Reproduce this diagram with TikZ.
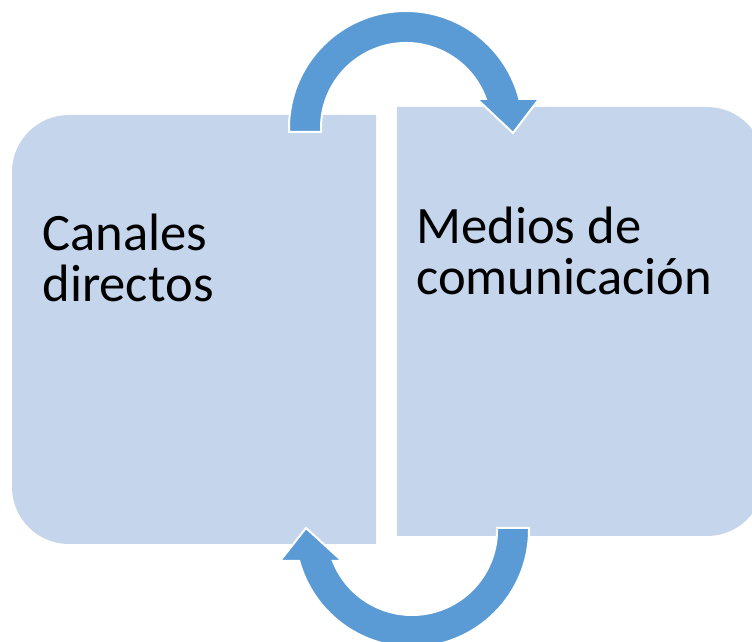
\documentclass[tikz,border=0pt]{standalone}
\usepackage{fontspec}
\setmainfont{Carlito}
\usepackage{tikz}
\usetikzlibrary{positioning}

\definecolor{boxblue}{RGB}{197,213,235}
\definecolor{arrowblue}{RGB}{91,155,213}

\begin{document}
\begin{tikzpicture}[x=0.5pt, y=0.5pt,
                    Panel/.style={fill=boxblue},
                    blockarrow/.style={fill=arrowblue, draw=white, line width=1pt, line join=miter},
                    Label/.style={anchor=base west, align=left, inner sep=0pt,
                                  font=\fontsize{26.3}{25.8}\selectfont}
                    ]

    \useasboundingbox (0,0) rectangle (752,642);
    \clip (0,0) rectangle (752,642);

    % BOXES %
    \fill[Panel] (376,98) -- (376,527) -- (69,527)
        arc[start angle=90, end angle=180, radius=57] -- (12,155)
        arc[start angle=180, end angle=270, radius=57] -- cycle;
    \fill[Panel] (397,106) -- (397,535) -- (707,535)
        arc[start angle=90, end angle=0, radius=57] -- (764,163)
        arc[start angle=0, end angle=-90, radius=57] -- cycle;

    \node[Label] (canales) at (42,340) {Canales\\directos};
    \node[Label] (medios)  at (416,347) {Medios de\\comunicación};

    % ARROWS %
    \draw[blockarrow] (289,510) -- (289,514)
        arc[start angle=180, end angle=14.35, radius=117]
        -- (539,543) -- (513,509) -- (477,543) -- (485.9,543)
        arc[start angle=19.95, end angle=180, radius=85]
        -- (321,510) -- cycle;
    \draw[blockarrow] (529,114) -- (529,112)
        arc[start angle=0, end angle=-164.64, radius=117]
        -- (280,81) -- (306,114) -- (342,81) -- (332.9,81)
        arc[start angle=-158.61, end angle=0, radius=85]
        -- (497,114) -- cycle;
\end{tikzpicture}
\end{document}
